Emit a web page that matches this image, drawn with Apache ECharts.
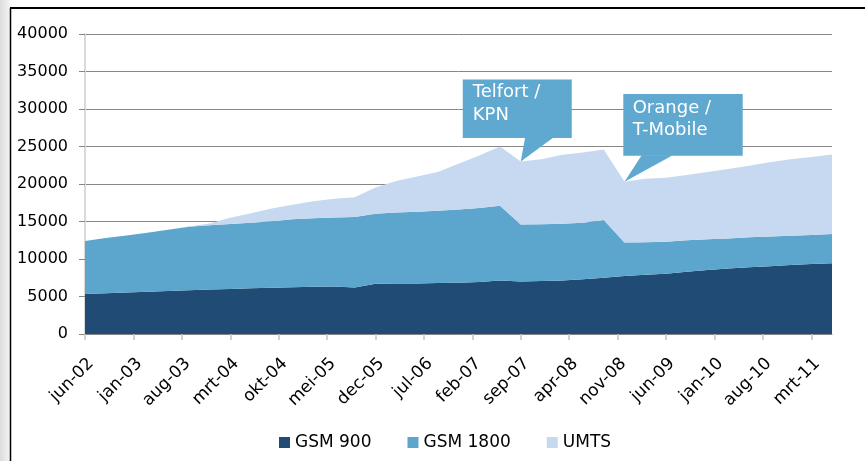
<!DOCTYPE html>
<html><head><meta charset="utf-8">
<script src="https://cdn.jsdelivr.net/npm/echarts@6/dist/echarts.min.js"></script>
<style>html,body{margin:0;padding:0;background:#fff}#c{width:865px;height:461px}</style>
</head><body><div id="c"></div><script>
// month index counted from jun-02 (0) to jun-11 (108), quarterly data points
const monthIdx = [0,3,6,9,12,15,18,21,24,27,30,33,36,39,42,45,48,51,54,57,60,63,66,69,72,75,78,81,84,87,90,93,96,99,102,105,108];
const gsm900 = [5330,5450,5550,5650,5750,5850,5920,6000,6100,6180,6250,6300,6350,6200,6700,6720,6750,6800,6850,6950,7150,7000,7080,7150,7300,7500,7750,7900,8050,8300,8550,8750,8900,9050,9200,9350,9450];
const gsm1800 = [7070,7350,7600,7850,8150,8450,8580,8670,8750,8870,9050,9150,9200,9400,9350,9480,9550,9650,9750,9850,9950,7600,7570,7550,7550,7700,4450,4350,4250,4200,4100,4000,4000,3950,3900,3850,3880];
const umts = [0,0,0,0,0,50,250,830,1250,1700,1950,2250,2500,2650,3500,4200,4700,5150,6100,7000,7900,8400,8650,9200,9350,9400,8100,8450,8550,8700,8950,9250,9550,9900,10200,10400,10620];
const tickMonths = [0,7,14,21,28,35,42,49,56,63,70,77,84,91,98,105];
const tickLabels = ['jun-02','jan-03','aug-03','mrt-04','okt-04','mei-05','dec-05','jul-06','feb-07','sep-07','apr-08','nov-08','jun-09','jan-10','aug-10','mrt-11'];
const seriesNames = ['GSM 900','GSM 1800','UMTS'];
const callouts = [
  {month:63, lines:['Telfort /','KPN']},
  {month:78, lines:['Orange /','T-Mobile']}
];

const FONT = 'DejaVu Sans, Verdana, sans-serif';
const COLORS = ['#1F4B74','#5CA5CD','#C6D9F0'];
const CALLOUT = '#5FA8D0';

const chart = echarts.init(document.getElementById('c'), null, {renderer:'canvas'});
// value first so that the library stacks the y dimension
function pts(arr){ return monthIdx.map((m,i)=>[arr[i], m]); }
const values = [gsm900, gsm1800, umts];

chart.setOption({
  animation:false,
  textStyle:{fontFamily:FONT},
  grid:{left:85, right:33, top:34, bottom:127, containLabel:false},
  legend:{left:274, top:429, itemWidth:11, itemHeight:11, itemGap:36, icon:'rect',
    textStyle:{fontSize:17, color:'#000', fontFamily:FONT}, data:seriesNames},
  xAxis:{type:'value', min:0, max:108,
    splitLine:{show:false},
    axisLine:{show:true, lineStyle:{color:'#868686', width:1}},
    axisTick:{show:true, customValues:tickMonths, length:6, lineStyle:{color:'#c4c4c4', width:1.5}},
    axisLabel:{customValues:tickMonths, formatter:v=>tickLabels[tickMonths.indexOf(v)],
      rotate:45, align:'right', verticalAlign:'top', fontSize:17, color:'#000', margin:21, fontFamily:FONT}},
  yAxis:{type:'value', min:0, max:40000, interval:5000,
    axisLine:{show:true, lineStyle:{color:'#d9d9d9', width:2}},
    axisTick:{show:true, length:6, lineStyle:{color:'#868686'}},
    splitLine:{show:true, lineStyle:{color:'#868686', width:1}},
    axisLabel:{fontSize:16, color:'#000', margin:17, fontFamily:FONT, formatter:v=>String(v)}},
  series: seriesNames.map((n,i)=>({
    name:n, type:'line', stack:'total', data:pts(values[i]),
    dimensions:['val','month'], encode:{x:1, y:0},
    symbol:'none', showSymbol:false,
    lineStyle:{width:0, color:COLORS[i]}, itemStyle:{color:COLORS[i]},
    areaStyle:{color:COLORS[i], opacity:1}, z:2
  }))
});

const g = [];
// frame
g.push({type:'rect', shape:{x:0,y:0,width:10,height:461}, style:{fill:new echarts.graphic.LinearGradient(0,0,1,0,[{offset:0,color:'#dcdcdc'},{offset:1,color:'#f4f4f4'}])}, z:0});
g.push({type:'line', shape:{x1:10.5,y1:8,x2:10.5,y2:461}, style:{stroke:'#000', lineWidth:1.5}, z:10});
g.push({type:'line', shape:{x1:10,y1:8,x2:865,y2:8}, style:{stroke:'#000', lineWidth:2}, z:10});

function addCallout(c, geo){
  const i = monthIdx.indexOf(c.month);
  const tot = gsm900[i]+gsm1800[i]+umts[i];
  const [tx,ty] = chart.convertToPixel({gridIndex:0}, [c.month, tot]);
  g.push({type:'rect', shape:{x:tx+geo.rx0, y:ty+geo.ry0, width:geo.rx1-geo.rx0, height:geo.ry1-geo.ry0}, style:{fill:CALLOUT}, z:20});
  g.push({type:'polygon', shape:{points:[[tx+geo.bx0,ty+geo.ry1-0.5],[tx+geo.bx1,ty+geo.ry1-0.5],[tx,ty]]}, style:{fill:CALLOUT}, z:20});
  c.lines.forEach((t,k)=>{
    g.push({type:'text', x:tx+geo.txx, y:ty+geo.ly[k], style:{text:t, fill:'#fff', font:'18px '+FONT, textVerticalAlign:'middle', textAlign:'left'}, z:21});
  });
}
addCallout(callouts[0], {rx0:-58, rx1:51, ry0:-82, ry1:-23.4, bx0:4.4, bx1:32.7, txx:-48, ly:[-69.5,-46.5]});
addCallout(callouts[1], {rx0:-1.2, rx1:118.2, ry0:-87.7, ry1:-26, bx0:17.2, bx1:48.2, txx:8.2, ly:[-73.5,-51.5]});
chart.setOption({graphic:g});
</script></body></html>
